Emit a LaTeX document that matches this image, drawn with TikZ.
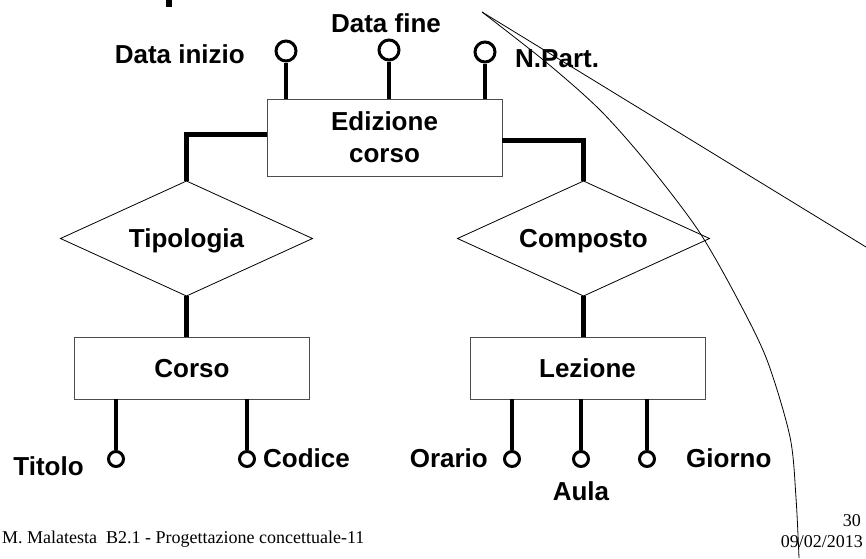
\documentclass[tikz,border=0pt]{standalone}
\usepackage{fontspec}
\setmainfont{Liberation Serif}
\newfontfamily\sansbold{Liberation Sans}
\usetikzlibrary{shapes.geometric}
\newcommand{\erfont}{\sansbold\bfseries\fontsize{26}{32}\selectfont}
\begin{document}
\begin{tikzpicture}[x=1pt, y=-1pt,
        txt/.style = {text height=23.6pt, text depth=5pt},
        ent/.style = {draw=black!70, line width=0.9pt, rectangle, minimum width=235pt, minimum height=62pt, font=\erfont},
        rel/.style = {draw, diamond, aspect=2.2, line width=0.8pt, minimum width=252pt, minimum height=115pt, inner sep=0pt, outer sep=0pt, font=\erfont, txt},
        attr/.style = {draw, circle, line width=3pt, minimum size=20pt, inner sep=0pt},
        attrs/.style = {attr, minimum size=15pt},
        lbl/.style = {inner sep=0pt, font=\erfont},
        link/.style = {line width=5pt},
        stem/.style = {line width=3.5pt},
        foot/.style = {inner sep=0pt, font=\fontsize{18}{20}\selectfont}]
        \useasboundingbox (0,0) rectangle (866,558);
        \node[ent, align=center, minimum height=77pt] (edizione) at (384.5,137.5) {Edizione\\corso};
        \node[rel] (tipologia) at (186.5,238.5) {Tipologia};
        \node[rel] (composto) at (583.5,238.5) {Composto};
        \node[ent, txt] (corso) at (192,368) {Corso};
        \node[ent, txt] (lezione) at (587.5,368) {Lezione};
        \node[attr] (datainizio) at (286,51) {};
        \node[attr] (datafine) at (389,50) {};
        \node[attr] (npart) at (485,52) {};
        \node[attrs] (titolo) at (116,459) {};
        \node[attrs] (codice) at (247,459) {};
        \node[attrs] (orario) at (512,459) {};
        \node[attrs] (aula) at (581,459) {};
        \node[attrs] (giorno) at (647,459) {};
        \node[lbl, anchor=base east] (ldatainizio) at (245,63) {Data inizio};
        \node[lbl, anchor=base] (ldatafine) at (386,32) {Data fine};
        \node[lbl, anchor=base west] (lnpart) at (515,67) {N.Part.};
        \node[lbl, anchor=base] (ltitolo) at (48.5,475) {Titolo};
        \node[lbl, anchor=base west] (lcodice) at (263,467) {Codice};
        \node[lbl, anchor=base east] (lorario) at (488,467) {Orario};
        \node[lbl, anchor=base] (laula) at (581,500) {Aula};
        \node[lbl, anchor=base west] (lgiorno) at (686,467) {Giorno};
        \node[foot, anchor=base west] (autore) at (2,543) {M. Malatesta\ \ B2.1 - Progettazione concettuale-11};
        \node[foot, anchor=base east] (pagina) at (861,526) {30};
        \node[foot, anchor=base east] (data) at (863,547) {09/02/2013};
        \foreach \a in {datainizio, datafine, npart}
            \draw[stem] (\a) -- (\a |- edizione.north);
        \foreach \a in {titolo, codice}
            \draw[stem] (\a) -- (\a |- corso.south);
        \foreach \a in {orario, aula, giorno}
            \draw[stem] (\a) -- (\a |- lezione.south);
        \draw[link] ([yshift=3.5pt]edizione.west) -| (tipologia.north);
        \draw[link] ([yshift=-2.5pt]edizione.east) -| (composto.north);
        \draw[link] (tipologia) -- (tipologia |- corso.north);
        \draw[link] (composto) -- (composto |- lezione.north);
        \draw[line width=6pt] (168.5,0) -- (168.5,7);
        \coordinate (tratto) at (482,12);
        \draw[line width=0.8pt] (tratto) -- (866,247);
        \draw[line width=0.8pt] plot[smooth] coordinates {(482,12) (547,63) (600,110) (647,163) (698,230) (737,298) (767,360) (790,437) (796,498) (799,558)};
    \end{tikzpicture}
\end{document}
